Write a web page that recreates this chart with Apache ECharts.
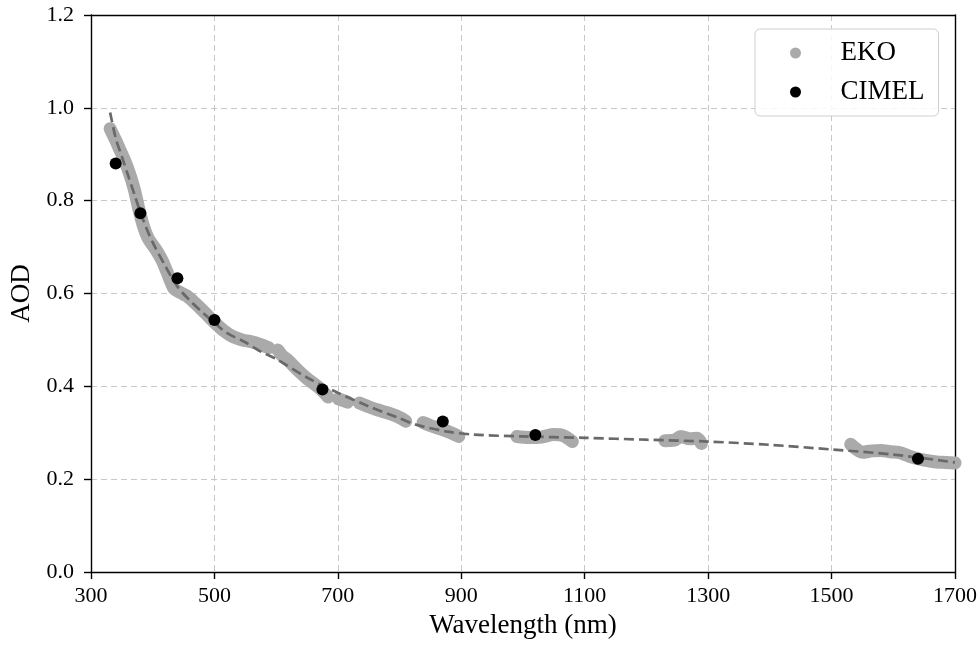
<!DOCTYPE html>
<html>
<head>
<meta charset="utf-8">
<script src="https://cdn.jsdelivr.net/npm/echarts@6/dist/echarts.min.js"></script>
<style>html,body{margin:0;padding:0;background:#fff}#c{width:980px;height:645px}</style>
</head>
<body>
<div id="c"></div>
<script>
// EKO spectral AOD (null separates measured segments)
const ekoWavelength = [331,340,345,355,362,370,377,385,393,405,415,422,428,435,445,455,468,485,500,515,530,545,560,575,588,
  null,603,610,620,635,650,662,673,684,
  null,701,716,
  null,735,750,765,780,795,810,
  null,838,855,870,885,896,
  null,990,1010,1030,1050,1065,1080,
  null,1230,1245,1256,1270,1282,1289,
  null,1531,1540,1550,1565,1580,1595,1610,1625,1640,1655,1670,1685,1700];
const ekoAOD = [0.955,0.93,0.915,0.885,0.86,0.825,0.785,0.745,0.718,0.695,0.672,0.65,0.63,0.61,0.602,0.595,0.58,0.558,0.538,0.52,0.507,0.5,0.496,0.49,0.483,
  null,0.478,0.466,0.455,0.435,0.417,0.405,0.393,0.377,
  null,0.373,0.366,
  null,0.364,0.356,0.349,0.343,0.336,0.325,
  null,0.322,0.313,0.307,0.299,0.292,
  null,0.292,0.290,0.291,0.296,0.294,0.281,
  null,0.283,0.284,0.292,0.287,0.288,0.277,
  null,0.275,0.265,0.258,0.261,0.262,0.259,0.257,0.25,0.244,0.24,0.237,0.236,0.235];
// CIMEL sun photometer AOD
const cimelWavelength = [340,380,440,500,675,870,1020,1640];
const cimelAOD = [0.88,0.773,0.633,0.543,0.393,0.324,0.295,0.244];
// fitted curve (dashed)
const fitWavelength = [331,340,350,360,370,380,390,400,420,440,460,480,500,520,550,575,600,650,700,750,800,825,875,920,1000,1100,1200,1300,1400,1500,1600,1700];
const fitAOD = [0.99,0.935,0.895,0.855,0.815,0.775,0.74,0.71,0.66,0.615,0.585,0.56,0.537,0.515,0.495,0.475,0.459,0.419,0.386,0.357,0.331,0.318,0.303,0.296,0.292,0.289,0.285,0.281,0.274,0.264,0.253,0.236];
const xTicks = {min:300, max:1700, step:200};
const yTicks = {min:0, max:1.2, step:0.2};

const ekoData = ekoWavelength.map((w,i)=> w===null ? ['-','-'] : [w, ekoAOD[i]]);
const cimelData = cimelWavelength.map((w,i)=>[w, cimelAOD[i]]);
const fitData = fitWavelength.map((w,i)=>[w, fitAOD[i]]);

const FONT = 'Liberation Serif';
const AXW = 1.4;
const frameAxis = {show:true, onZero:false, lineStyle:{color:'#000', width:AXW}};
const chart = echarts.init(document.getElementById('c'), null, {renderer:'canvas'});
chart.setOption({
  animation:false,
  backgroundColor:'#fff',
  grid:{left:90, top:15, width:866, height:557},
  legend:{
    orient:'vertical', left:755, top:29,
    padding:[10,14,10,35],
    itemWidth:20, itemHeight:11, itemGap:11,
    backgroundColor:'rgba(255,255,255,0.85)', borderColor:'#cfcfcf', borderWidth:1, borderRadius:5,
    textStyle:{fontFamily:FONT, fontSize:27, color:'#000', lineHeight:28, padding:[0,0,0,30]},
    data:[{name:'EKO', icon:'circle', itemStyle:{color:'#aaaaaa'}},{name:'CIMEL', icon:'circle', itemStyle:{color:'#000'}}]
  },
  xAxis:[{
    type:'value', min:xTicks.min, max:xTicks.max, interval:xTicks.step,
    name:'Wavelength (nm)', nameLocation:'middle', nameGap:40,
    nameTextStyle:{fontFamily:FONT, fontSize:27, color:'#000'},
    axisLine:frameAxis,
    axisTick:{show:true, inside:false, length:7, lineStyle:{color:'#000', width:AXW}},
    axisLabel:{fontFamily:FONT, fontSize:22, color:'#000', margin:13, formatter:v=>String(v)},
    splitLine:{show:true, lineStyle:{color:'#c8c8c8', width:1, type:[6,4]}}
  },{
    type:'value', position:'top', min:xTicks.min, max:xTicks.max, interval:xTicks.step,
    axisLine:frameAxis, axisTick:{show:false}, axisLabel:{show:false}, splitLine:{show:false}
  }],
  yAxis:[{
    type:'value', min:yTicks.min, max:yTicks.max, interval:yTicks.step,
    name:'AOD', nameLocation:'middle', nameGap:56, nameRotate:90,
    nameTextStyle:{fontFamily:FONT, fontSize:27, color:'#000'},
    axisLine:frameAxis,
    axisTick:{show:true, inside:false, length:7, lineStyle:{color:'#000', width:AXW}},
    axisLabel:{fontFamily:FONT, fontSize:22, color:'#000', margin:17, formatter:v=>v.toFixed(1)},
    splitLine:{show:true, lineStyle:{color:'#c8c8c8', width:1, type:[6,4]}}
  },{
    type:'value', position:'right', min:yTicks.min, max:yTicks.max, interval:yTicks.step,
    axisLine:frameAxis, axisTick:{show:false}, axisLabel:{show:false}, splitLine:{show:false}
  }],
  series:[
    {name:'EKO', type:'line', data:ekoData, showSymbol:false, symbol:'none', connectNulls:false, smooth:0.3,
     itemStyle:{color:'#aaaaaa'}, lineStyle:{color:'#aaaaaa', width:13, cap:'round', join:'round'}, z:2},
    {name:'fit', type:'line', data:fitData, showSymbol:false, symbol:'none', smooth:0.3,
     lineStyle:{color:'#696969', width:2.7, type:[10,5]}, z:3},
    {name:'CIMEL', type:'scatter', data:cimelData, symbol:'circle', symbolSize:12,
     itemStyle:{color:'#000', opacity:1}, z:4}
  ]
});
</script>
</body>
</html>
